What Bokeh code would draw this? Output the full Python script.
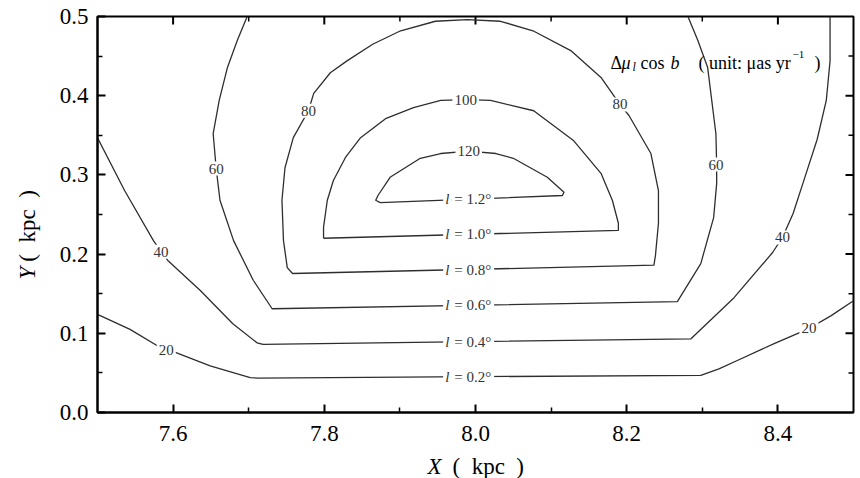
import numpy as np
from bokeh.plotting import figure
from bokeh.layouts import column, row
from bokeh.models import ColumnDataSource, Range1d, FixedTicker, Label
from bokeh.core.properties import value
from bokeh.embed import file_html
from bokeh.resources import INLINE

FONT = "Liberation Serif"
LINE = "#2e2e2e"
TEXT = "#333333"

# Contour levels of Δμ_l cos b (µas/yr) and the longitude of each contour's flat base
levels = [20, 40, 60, 80, 100, 120]
longitudes = ["0.2", "0.4", "0.6", "0.8", "1.0", "1.2"]

# Traced contour paths, X and Y in kpc
c20_x = [7.500, 7.543, 7.583, 7.603, 7.649, 7.702, 7.712, 8.298, 8.322, 8.347, 8.395, 8.441, 8.470, 8.500]
c20_y = [0.124, 0.105, 0.082, 0.076, 0.059, 0.044, 0.0435, 0.047, 0.055, 0.066, 0.087, 0.106, 0.122, 0.141]

c40_x = [7.500, 7.536, 7.574, 7.584, 7.593, 7.636, 7.679, 7.711, 7.719, 8.285, 8.342, 8.393,
         8.406, 8.420, 8.435, 8.452, 8.464, 8.469, 8.469]
c40_y = [0.347, 0.280, 0.217, 0.203, 0.192, 0.154, 0.112, 0.088, 0.086, 0.093, 0.145, 0.202,
         0.221, 0.251, 0.295, 0.345, 0.394, 0.444, 0.500]

c60_x = [7.698, 7.685, 7.672, 7.661, 7.653, 7.657, 7.662, 7.680, 7.706, 7.731, 8.267, 8.298,
         8.315, 8.319, 8.319, 8.318, 8.307, 8.294, 8.281]
c60_y = [0.500, 0.470, 0.436, 0.394, 0.352, 0.308, 0.268, 0.217, 0.167, 0.131, 0.140, 0.188,
         0.246, 0.289, 0.313, 0.352, 0.436, 0.470, 0.500]

c80_x = [7.758, 7.751, 7.746, 7.744, 7.748, 7.759, 7.779, 7.786, 7.808, 7.830, 7.864, 7.901,
         7.947, 7.989, 8.033, 8.076, 8.126, 8.166, 8.191, 8.203, 8.232, 8.242, 8.242, 8.238,
         8.236, 7.758]
c80_y = [0.1755, 0.183, 0.217, 0.268, 0.309, 0.347, 0.381, 0.403, 0.429, 0.444, 0.465, 0.482,
         0.494, 0.496, 0.494, 0.482, 0.457, 0.423, 0.389, 0.375, 0.327, 0.280, 0.239, 0.198,
         0.186, 0.1755]

c100_x = [7.799, 7.799, 7.804, 7.812, 7.828, 7.848, 7.881, 7.918, 7.954, 7.987, 8.020, 8.077,
          8.130, 8.166, 8.181, 8.189, 8.189, 7.799]
c100_y = [0.220, 0.234, 0.268, 0.293, 0.322, 0.347, 0.371, 0.385, 0.394, 0.395, 0.394, 0.381,
          0.343, 0.302, 0.268, 0.239, 0.230, 0.220]

c120_x = [7.874, 7.868, 7.871, 7.887, 7.907, 7.927, 7.954, 7.991, 8.027, 8.050, 8.095, 8.117,
          8.115, 7.874]
c120_y = [0.265, 0.268, 0.274, 0.297, 0.309, 0.321, 0.327, 0.330, 0.327, 0.321, 0.297, 0.278,
          0.274, 0.265]

# In-line labels giving the contour level
level_label_x = [7.591, 8.441, 7.584, 8.406, 7.657, 8.318, 7.779, 8.191, 7.987, 7.991]
level_label_y = [0.0795, 0.107, 0.203, 0.221, 0.308, 0.313, 0.381, 0.389, 0.395, 0.330]
level_label_text = ["20", "20", "40", "40", "60", "60", "80", "80", "100", "120"]

# Longitude labels sitting on each contour's base
lon_label_x = [7.987, 7.987, 7.987, 7.987, 7.987, 7.987]
lon_label_y = [0.045, 0.0893, 0.1352, 0.1805, 0.2249, 0.2693]

x_start, x_end = 7.5, 8.5
y_start, y_end = 0.0, 0.5
x_ticks = [7.6, 7.8, 8.0, 8.2, 8.4]
x_tick_labels = ["7.6", "7.8", "8.0", "8.2", "8.4"]
x_minor = [7.7, 7.9, 8.1, 8.3]
y_ticks = [0.0, 0.1, 0.2, 0.3, 0.4, 0.5]
y_tick_labels = ["0.0", "0.1", "0.2", "0.3", "0.4", "0.5"]
y_minor = [0.05, 0.15, 0.25, 0.35, 0.45]

UNIT = "(\u2002kpc\u2002)"

# ---- main contour panel ----
p = figure(width=810, height=452, x_range=Range1d(x_start, x_end), y_range=Range1d(y_start, y_end),
           output_backend="svg", toolbar_location=None, title=None,
           min_border_left=47, min_border_right=7, min_border_top=16, min_border_bottom=40)
p.grid.visible = False
p.outline_line_color = "black"
p.outline_line_width = 2
p.background_fill_color = "white"
p.border_fill_color = "white"

p.xaxis.ticker = FixedTicker(ticks=x_ticks, minor_ticks=x_minor)
p.yaxis.ticker = FixedTicker(ticks=y_ticks, minor_ticks=y_minor)
p.xaxis.major_label_overrides = dict(zip(x_ticks, x_tick_labels))
p.yaxis.major_label_overrides = dict(zip(y_ticks, y_tick_labels))
for ax in p.axis:
    ax.axis_line_width = 2
    ax.axis_line_color = "black"
    ax.major_tick_line_width = 2
    ax.minor_tick_line_width = 1.5
    ax.major_tick_in = 8
    ax.major_tick_out = 0
    ax.minor_tick_in = 5
    ax.minor_tick_out = 0
    ax.major_label_text_font = FONT
    ax.major_label_text_font_size = "23px"
    ax.major_label_text_color = "black"
p.xaxis.major_label_standoff = 13
p.yaxis.major_label_standoff = 9

# inward ticks along the top and right frame edges (half of each dash is clipped away)
p.scatter(x=x_ticks, y=[y_end] * len(x_ticks), marker="dash", angle=np.pi / 2, size=16,
          line_color="black", line_width=2)
p.scatter(x=x_minor, y=[y_end] * len(x_minor), marker="dash", angle=np.pi / 2, size=10,
          line_color="black", line_width=1.5)
p.scatter(x=[x_end] * (len(y_ticks) - 2), y=y_ticks[1:-1], marker="dash", size=16,
          line_color="black", line_width=2)
p.scatter(x=[x_end] * len(y_minor), y=y_minor, marker="dash", size=10,
          line_color="black", line_width=1.5)

# contour lines
p.multi_line(xs=[c20_x, c40_x, c60_x, c80_x, c100_x, c120_x],
             ys=[c20_y, c40_y, c60_y, c80_y, c100_y, c120_y],
             line_color=LINE, line_width=1.3, line_join="round")

# level labels, masking the line underneath
lvl_src = ColumnDataSource(dict(x=level_label_x, y=level_label_y, text=level_label_text))
p.text(x="x", y="y", text="text", source=lvl_src, text_font=value(FONT),
       text_font_size="15px", text_color=TEXT, text_align="center",
       text_baseline="middle", background_fill_color="white", padding=2)

# longitude labels: italic "l" followed by "= x°"
lon_src = ColumnDataSource(dict(x=lon_label_x, y=lon_label_y,
                                l=["l"] * len(longitudes),
                                rest=["= " + s + "°" for s in longitudes]))
p.text(x="x", y="y", text="rest", source=lon_src, x_offset=-14.5, text_font=value(FONT),
       text_font_size="15px", text_color=TEXT, text_align="left", text_baseline="middle",
       background_fill_color="white", padding=3)
p.text(x="x", y="y", text="l", source=lon_src, x_offset=-22.5, text_font=value(FONT),
       text_font_size="15px", text_font_style="italic", text_color=TEXT, text_align="left",
       text_baseline="middle", background_fill_color="white", padding=2)


def piece(txt, sx, sy, size, style="normal"):
    p.add_layout(Label(x=sx, y=sy, x_units="screen", y_units="screen", text=txt,
                       text_font=FONT, text_font_size=size, text_font_style=style,
                       text_color="black", text_align="left", text_baseline="alphabetic"))


# quantity annotation in the upper right
piece("Δ", 513, 350, "18px")
piece("μ", 524, 350, "18px", "italic")
piece("l", 535, 346, "12px", "italic")
piece("cos", 543, 350, "18px")
piece("b", 573, 350, "18px", "italic")
piece("( unit: μas yr", 601, 350, "18px")
piece("−1", 695, 358, "11px")
piece(")", 717, 350, "18px")


def title_panel(width, height):
    f = figure(width=width, height=height, x_range=Range1d(0, width), y_range=Range1d(0, height),
               output_backend="svg", toolbar_location=None, title=None,
               x_axis_type=None, y_axis_type=None, min_border=0)
    f.grid.visible = False
    f.outline_line_color = None
    f.background_fill_color = "white"
    f.border_fill_color = "white"
    return f


# y-axis title panel (rotated text, anchored at the middle of each piece)
ytitle = title_panel(50, 452)
ytitle.text(x=[27], y=[159], text=["Y"], angle=np.pi / 2, text_font=value(FONT),
            text_font_size="23px", text_font_style="italic", text_color="black",
            text_align="center", text_baseline="middle")
ytitle.text(x=[27], y=[213], text=[UNIT], angle=np.pi / 2, text_font=value(FONT),
            text_font_size="23px", text_color="black", text_align="center",
            text_baseline="middle")

# x-axis title panel
xtitle = title_panel(860, 26)
xtitle.text(x=[427], y=[12.5], text=["X"], text_font=value(FONT), text_font_size="23px",
            text_font_style="italic", text_color="black", text_align="left",
            text_baseline="middle")
xtitle.text(x=[452], y=[12.5], text=[UNIT], text_font=value(FONT), text_font_size="23px",
            text_color="black", text_align="left", text_baseline="middle")

layout = column(row(ytitle, p, spacing=0), xtitle, spacing=0)
open("out.html", "w").write(file_html(layout, INLINE))
